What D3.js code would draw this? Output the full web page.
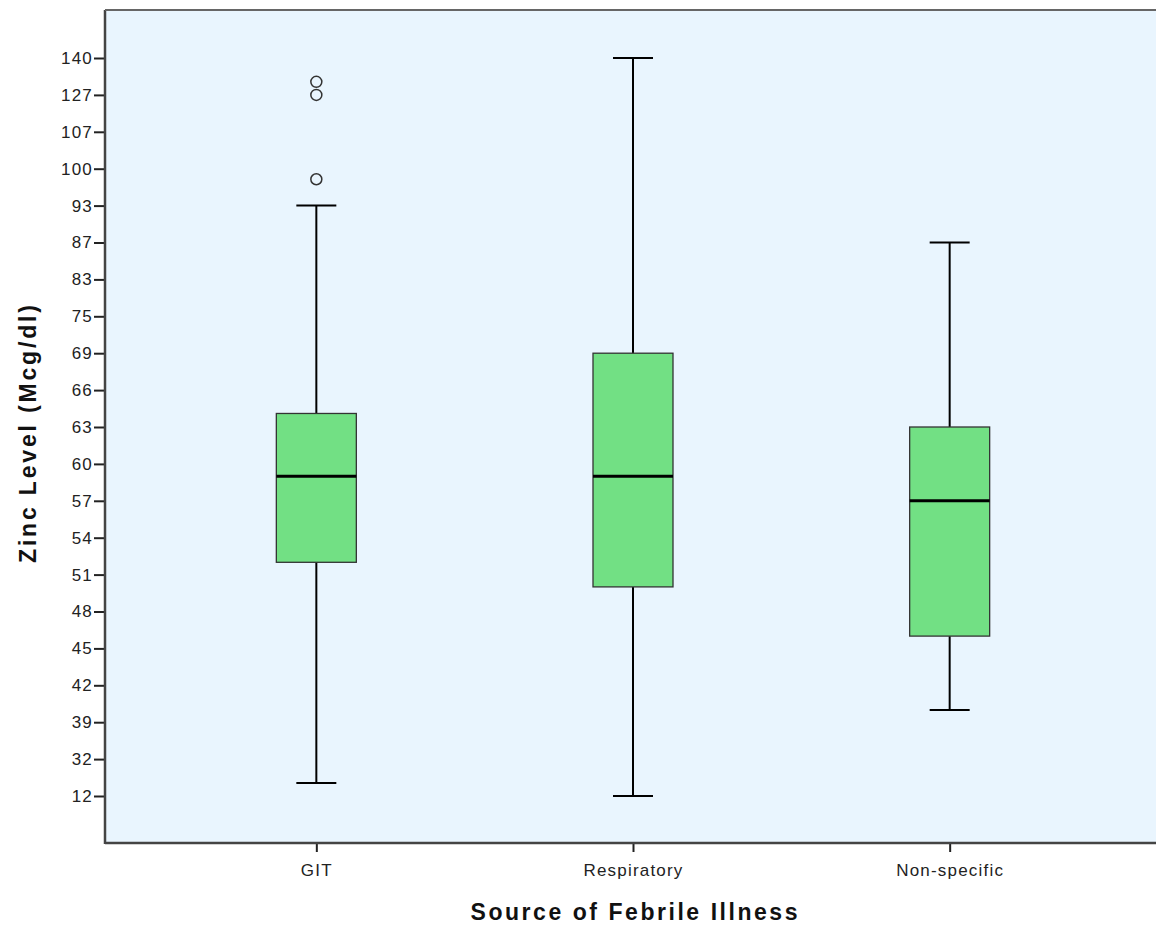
<!DOCTYPE html>
<html><head><meta charset="utf-8">
<script src="https://cdn.jsdelivr.net/npm/d3@7"></script>
<style>body{margin:0;background:#fff}svg{display:block}</style>
</head><body>
<script>
const categories = ["GIT","Respiratory","Non-specific"];
const tickLabels = [12,32,39,42,45,48,51,54,57,60,63,66,69,75,83,87,93,100,107,127,140];
const whiskerLow = [19,12,40];
const q1 = [52,50,46];
const median = [59,59,57];
const q3 = [64.1,69,63];
const whiskerHigh = [93,140,87];
const outliers = [[98,127,131.6],[],[]];

(function(){
const W=1156,H=926;
const FONT="Liberation Sans, Arial, sans-serif";
const svg=d3.select("body").append("svg").attr("width",W).attr("height",H);
const pL=105, pT=10, pB=843, pR=1170;
const step=36.9, yBottomTick=796;
const y=d3.scaleLinear().domain(tickLabels).range(tickLabels.map((d,i)=>yBottomTick-i*step));
const x=d3.scalePoint().domain(categories).range([158,1108]).padding(0.5);

svg.append("rect").attr("x",pL).attr("y",pT).attr("width",pR-pL).attr("height",pB-pT).attr("fill","#e9f5fe");

const boxW=80;
const g=svg.append("g");
categories.forEach((c,i)=>{
  const cx=x(c);
  g.append("line").attr("x1",cx).attr("x2",cx).attr("y1",y(whiskerHigh[i])).attr("y2",y(q3[i])).attr("stroke","#000").attr("stroke-width",2);
  g.append("line").attr("x1",cx).attr("x2",cx).attr("y1",y(q1[i])).attr("y2",y(whiskerLow[i])).attr("stroke","#000").attr("stroke-width",2);
  [whiskerHigh[i],whiskerLow[i]].forEach(v=>g.append("line").attr("x1",cx-20).attr("x2",cx+20).attr("y1",y(v)).attr("y2",y(v)).attr("stroke","#000").attr("stroke-width",2));
  g.append("rect").attr("x",cx-boxW/2).attr("y",y(q3[i])).attr("width",boxW).attr("height",y(q1[i])-y(q3[i])).attr("fill","#72e084").attr("stroke","#333").attr("stroke-width",1.3);
  g.append("line").attr("x1",cx-boxW/2).attr("x2",cx+boxW/2).attr("y1",y(median[i])).attr("y2",y(median[i])).attr("stroke","#000").attr("stroke-width",3);
  outliers[i].forEach(v=>g.append("circle").attr("cx",cx).attr("cy",y(v)).attr("r",5.5).attr("fill","none").attr("stroke","#333").attr("stroke-width",1.5));
});

const yAxis=svg.append("g").attr("transform",`translate(${pL},0)`)
  .call(d3.axisLeft(y).tickValues(tickLabels).tickFormat(d3.format("d")).tickSize(11).tickPadding(1));
const xAxis=svg.append("g").attr("transform",`translate(0,${pB})`)
  .call(d3.axisBottom(x).tickSize(9).tickPadding(12));
[yAxis,xAxis].forEach(a=>{
  a.select(".domain").remove();
  a.selectAll(".tick line").attr("stroke","#222").attr("stroke-width",2);
  a.selectAll("text").attr("font-family",FONT).attr("font-size",17).attr("letter-spacing",1.2).attr("fill","#222");
});
svg.append("line").attr("x1",pL).attr("x2",pL).attr("y1",pT).attr("y2",pB+1).attr("stroke","#444").attr("stroke-width",2.5);
svg.append("line").attr("x1",pL).attr("x2",pR).attr("y1",pB).attr("y2",pB).attr("stroke","#444").attr("stroke-width",2.5);
svg.append("line").attr("x1",pL).attr("x2",pR).attr("y1",pT).attr("y2",pT).attr("stroke","#666").attr("stroke-width",2);

svg.append("text").attr("x",634).attr("y",920).attr("text-anchor","middle")
  .attr("font-family",FONT).attr("font-weight","bold").attr("font-size",23).attr("fill","#111")
  .attr("textLength",327).attr("lengthAdjust","spacing")
  .text("Source of Febrile Illness");
svg.append("text").attr("transform","translate(36,434) rotate(-90)").attr("text-anchor","middle")
  .attr("font-family",FONT).attr("font-weight","bold").attr("font-size",23).attr("fill","#111")
  .attr("textLength",258).attr("lengthAdjust","spacing")
  .text("Zinc Level (Mcg/dl)");
})();
</script>
</body></html>
